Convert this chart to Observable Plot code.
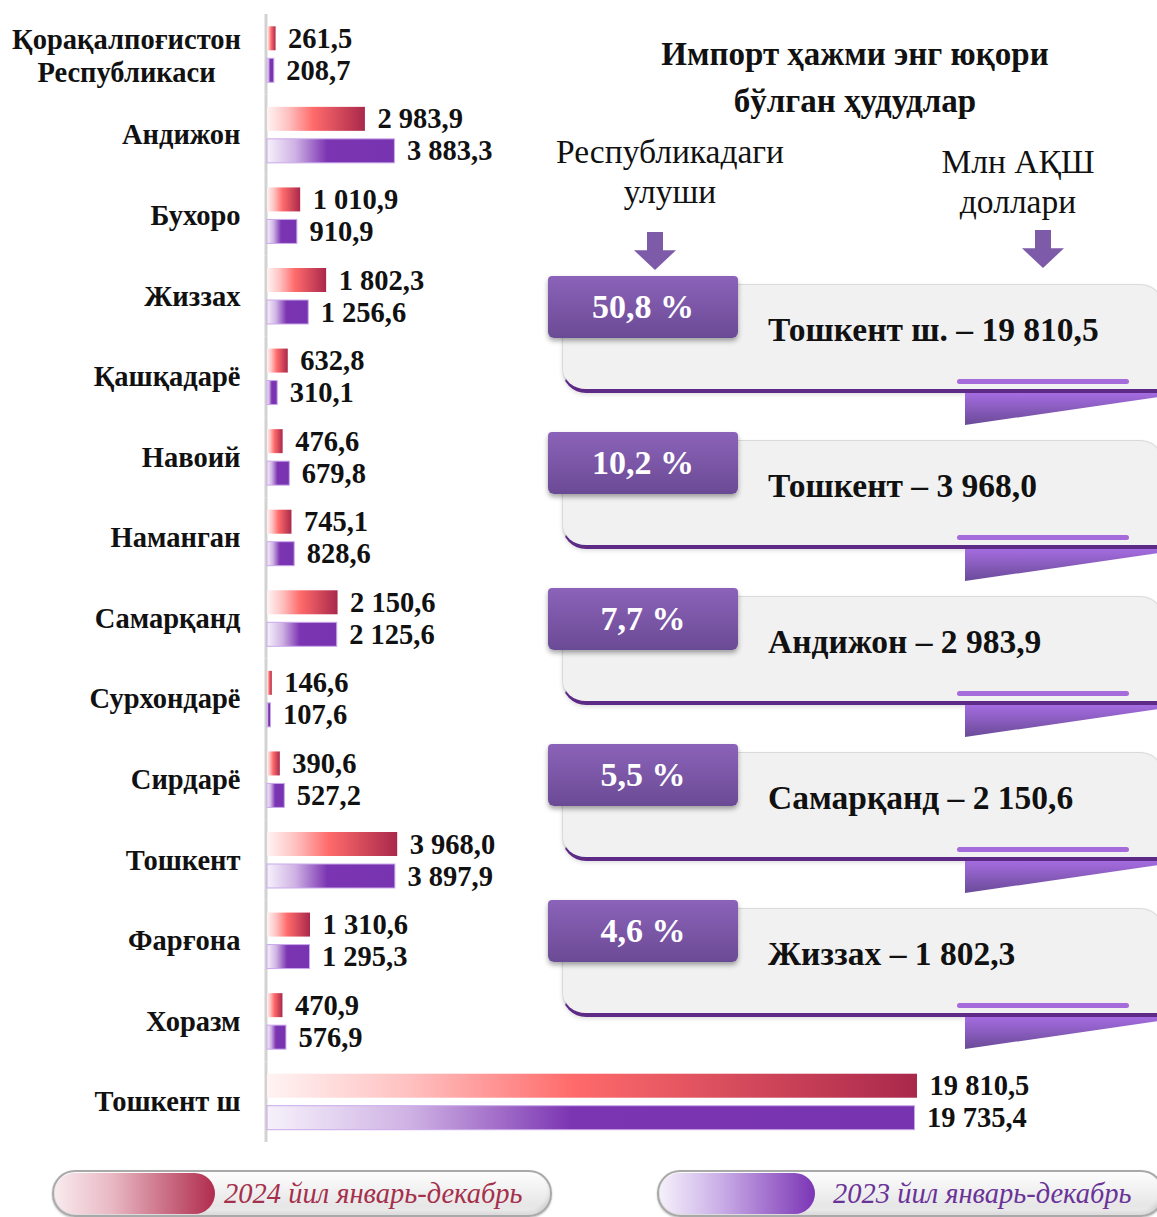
<!DOCTYPE html>
<html><head><meta charset="utf-8">
<script src="https://cdn.jsdelivr.net/npm/d3@7"></script>
<script src="https://cdn.jsdelivr.net/npm/@observablehq/plot@0.6"></script>
<style>
html,body{margin:0;padding:0;background:#fff;}
#wrap{position:relative;width:1157px;height:1217px;overflow:hidden;font-family:"Liberation Serif","Times New Roman",serif;color:#111;}
#chart{position:absolute;left:0;top:0;}
.title{position:absolute;left:540px;top:31px;width:630px;text-align:center;font-weight:bold;font-size:33px;line-height:47px;}
.sub{position:absolute;text-align:center;font-size:33.5px;line-height:40px;}
.arrow{position:absolute;width:42px;height:38px;background:#7d5ba8;clip-path:polygon(31% 0,69% 0,69% 48%,100% 48%,50% 100%,0 48%,31% 48%);}
#cards{position:absolute;left:548px;top:276px;width:609px;}
.card{position:relative;height:156px;}
.card .body{position:absolute;left:14px;top:8px;width:600px;height:104px;background:#f1f1f1;border:1px solid #dadada;border-bottom:4px solid #5d2b86;border-radius:0 24px 0 24px;box-shadow:0 2px 4px rgba(0,0,0,.12);}
.card .tab{position:absolute;left:0;top:0;width:190px;height:62px;background:linear-gradient(#8b63b9,#6b4a95);border-radius:4px 4px 6px 6px;box-shadow:0 3px 5px rgba(0,0,0,.35);color:#fff;font-weight:bold;font-size:34px;line-height:62px;text-align:center;}
.card .hl{position:absolute;left:409px;top:103px;width:172px;height:5px;border-radius:3px;background:#a66bdb;}
.card .fold{position:absolute;left:417px;top:117px;width:195px;height:32px;background:linear-gradient(#a56ce0,#6a4b98);clip-path:polygon(0 0,100% 0,100% 12%,0 100%);}
.card .name{position:absolute;left:220px;top:34px;font-size:33.5px;font-weight:bold;line-height:40px;white-space:nowrap;}
.pill{position:absolute;top:1170px;height:43px;border-radius:23px;background:linear-gradient(#fdfdfd,#e6e6e6 80%,#f6f6f6);border:2px solid #a9a9a9;box-shadow:inset 0 -3px 4px rgba(0,0,0,.12),0 1px 2px rgba(0,0,0,.25);}
.pill .sw{position:absolute;left:1px;top:1px;bottom:1px;border-radius:21px 22px 22px 21px;}
.pill .lt{position:absolute;top:0;font-style:italic;font-size:28.5px;line-height:43px;white-space:nowrap;}
</style></head><body>
<div id="wrap"><div id="chart"></div><div id="panel"></div><div id="legend"></div></div>
<script>
const regions = ["Қорақалпоғистон\nРеспубликаси","Андижон","Бухоро","Жиззах","Қашқадарё","Навоий","Наманган","Самарқанд","Сурхондарё","Сирдарё","Тошкент","Фарғона","Хоразм","Тошкент ш"];
const values2024 = [261.5, 2983.9, 1010.9, 1802.3, 632.8, 476.6, 745.1, 2150.6, 146.6, 390.6, 3968.0, 1310.6, 470.9, 19810.5];
const values2023 = [208.7, 3883.3, 910.9, 1256.6, 310.1, 679.8, 828.6, 2125.6, 107.6, 527.2, 3897.9, 1295.3, 576.9, 19735.4];
const seriesKeys = ["2024", "2023"];
const seriesLabels = ["2024 йил январь-декабрь", "2023 йил январь-декабрь"];
const panelTitle = ["Импорт ҳажми энг юқори", "бўлган ҳудудлар"];
const shareHeader = ["Республикадаги", "улуши"];
const unitHeader = ["Млн АҚШ", "доллари"];
const topShares = [50.8, 10.2, 7.7, 5.5, 4.6];
const topNames = ["Тошкент ш.", "Тошкент", "Андижон", "Самарқанд", "Жиззах"];
const topValues = [19810.5, 3968.0, 2983.9, 2150.6, 1802.3];

const locale = d3.formatLocale({decimal: ",", thousands: " ", grouping: [3], currency: ["", ""]});
const fmt = locale.format(",.1f");
const rows = regions.flatMap((r, i) => [
  {region: r, year: seriesKeys[0], value: values2024[i]},
  {region: r, year: seriesKeys[1], value: values2023[i]}
]);
const rows24 = rows.filter(d => d.year === seriesKeys[0]);
const rows23 = rows.filter(d => d.year === seriesKeys[1]);
const font = "'Liberation Serif','Times New Roman',serif";

const chart = Plot.plot({
  width: 1157, height: 1150,
  marginLeft: 267, marginRight: 240, marginTop: 14, marginBottom: 8,
  style: {fontFamily: font, background: "transparent", color: "#111", overflow: "visible"},
  fy: {domain: regions, padding: 0, round: false, axis: null},
  y: {domain: seriesKeys, paddingInner: 0.25, paddingOuter: 0.384, round: false, axis: null},
  x: {axis: null},
  marks: [
    Plot.ruleX([0], {stroke: "#d2d2d2", strokeWidth: 3, dx: -1.5}),
    Plot.barX(rows24, {fy: "region", y: "year", x: "value", fill: "url(#grad24)", ariaLabel: "bars-2024"}),
    Plot.barX(rows23, {fy: "region", y: "year", x: "value", fill: "url(#grad23)", stroke: "#caa8ea", strokeWidth: 1, ariaLabel: "bars-2023"}),
    Plot.text(rows, {fy: "region", y: "year", x: "value", text: d => fmt(d.value), textAnchor: "start", dx: 12, fontSize: 28.5, fontWeight: "bold"}),
    Plot.text(regions.slice(1), {fy: d => d, text: d => d, frameAnchor: "left", textAnchor: "end", dx: -27, fontSize: 28.5, fontWeight: "bold"}),
    Plot.text(regions.slice(0, 1), {fy: d => d, text: d => d, frameAnchor: "left", textAnchor: "middle", dx: -141, fontSize: 28.5, fontWeight: "bold", lineHeight: 1.16})
  ]
});

const defs = d3.select(chart).insert("defs", ":first-child");
function grad(id, stops) {
  const g = defs.append("linearGradient").attr("id", id);
  stops.forEach(([o, c]) => g.append("stop").attr("offset", o).attr("stop-color", c));
}
grad("grad24", [[0, "#fff3f3"], [0.22, "#ffc0c0"], [0.47, "#ff6b6b"], [1, "#a9284b"]]);
grad("grad23", [[0, "#f6f1fb"], [0.22, "#cfb2e4"], [0.47, "#7c35b2"], [1, "#7733b0"]]);
defs.html(defs.html() +
  '<filter id="glow24" x="-20%" y="-40%" width="140%" height="200%"><feDropShadow dx="2" dy="3" stdDeviation="2.5" flood-color="#ffb27a" flood-opacity="0.55"/></filter>' +
  '<filter id="glow23" x="-20%" y="-40%" width="140%" height="200%"><feDropShadow dx="2" dy="4" stdDeviation="3" flood-color="#c5d3e6" flood-opacity="0.5"/></filter>');
d3.select(chart).selectAll('g[aria-label="bars-2024"]').attr("filter", "url(#glow24)");
d3.select(chart).selectAll('g[aria-label="bars-2023"]').attr("filter", "url(#glow23)");
document.getElementById("chart").appendChild(chart);

// right-hand panel
const panel = d3.select("#panel");
panel.append("div").attr("class", "title").html(panelTitle.join("<br>"));
panel.append("div").attr("class", "sub").style("left", "510px").style("top", "132px").style("width", "320px").html(shareHeader.join("<br>"));
panel.append("div").attr("class", "sub").style("left", "878px").style("top", "142px").style("width", "280px").html(unitHeader.join("<br>"));
panel.append("div").attr("class", "arrow").style("left", "634px").style("top", "232px");
panel.append("div").attr("class", "arrow").style("left", "1022px").style("top", "230px");
const fmtShare = locale.format(".1f");
const cards = panel.append("div").attr("id", "cards").selectAll("div.card")
  .data(topNames.map((n, i) => ({name: n, share: topShares[i], value: topValues[i]})))
  .join("div").attr("class", "card");
cards.append("div").attr("class", "body");
cards.append("div").attr("class", "hl");
cards.append("div").attr("class", "fold");
cards.append("div").attr("class", "tab").text(d => fmtShare(d.share) + " %");
cards.append("div").attr("class", "name").text(d => d.name + " – " + fmt(d.value));

// legend
const legend = d3.select("#legend");
const legendSpec = [
  {label: seriesLabels[0], left: 52, width: 496, sw: 160, tx: 170, grad: "linear-gradient(to right,#f8eaee,#e9b9c4 35%,#b02c4d)", color: "#a5304c"},
  {label: seriesLabels[1], left: 657, width: 503, sw: 155, tx: 174, grad: "linear-gradient(to right,#f5f0fb,#c9ace6 40%,#7b35b5)", color: "#6a3398"}
];
const pills = legend.selectAll("div.pill").data(legendSpec).join("div").attr("class", "pill")
  .style("left", d => d.left + "px").style("width", d => d.width + "px");
pills.append("div").attr("class", "sw").style("width", d => d.sw + "px").style("background", d => d.grad);
pills.append("div").attr("class", "lt").style("left", d => d.tx + "px").style("color", d => d.color).text(d => d.label);
</script>
</body></html>
